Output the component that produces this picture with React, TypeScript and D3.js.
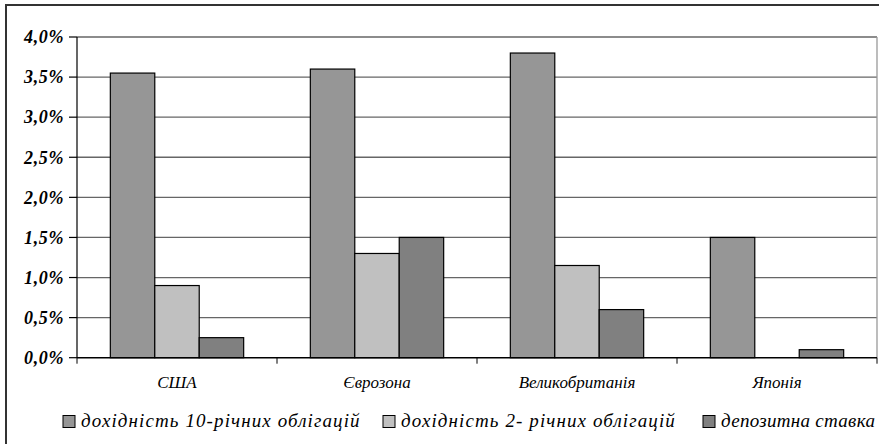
import React from "react";
import * as d3 from "d3";

const categories = ["США", "Єврозона", "Великобританія", "Японія"];
const seriesNames = [
  "дохідність 10-річних облігацій",
  "дохідність 2- річних облігацій",
  "депозитна ставка",
];
const yield10 = [3.55, 3.6, 3.8, 1.5];
const yield2 = [0.9, 1.3, 1.15, null];
const depositRate = [0.25, 1.5, 0.6, 0.1];
const yTicks = [0, 0.5, 1, 1.5, 2, 2.5, 3, 3.5, 4];
const colors = ["#969696", "#c0c0c0", "#808080"];

const W = 879, H = 444;
const left = 77, right = 877, top = 37, bottom = 357.7;
const serif = '"Liberation Serif"';

export default function App() {
  const x = d3.scaleBand<string>().domain(categories).range([left, right]).padding(0);
  const y = d3.scaleLinear().domain([0, 4]).range([bottom, top]);
  const bw = x.bandwidth() / 4.5;
  const xs = d3.scaleBand<string>().domain(["0", "1", "2"]).range([0.75 * bw, 3.75 * bw]).padding(0);
  const fmt = (d: number) => d3.format(".1f")(d).replace(".", ",") + "%";
  const series = [yield10, yield2, depositRate];
  const legX = [63, 383, 703];
  const legSpacing = [1.1, 1.1, 0.3];

  return (
    <svg width={W} height={H} style={{ display: "block", position: "absolute", left: 0, top: 0 }}>
      <rect x={0} y={0} width={W} height={H} fill="#fff" />
      <rect x={6} y={5} width={900} height={500} fill="none" stroke="#333" strokeWidth={2} />
      {yTicks.filter(t => t > 0).map(t => (
        <line key={t} x1={left} x2={right} y1={y(t)} y2={y(t)} stroke="#666" strokeWidth={1.3} />
      ))}
      <line x1={right} x2={right} y1={top} y2={bottom} stroke="#999" strokeWidth={1.3} />
      {series.map((vals, si) =>
        categories.map((c, i) => {
          const v = vals[i];
          if (v == null) return null;
          return (
            <rect key={si + "-" + c}
              x={(x(c) as number) + (xs(String(si)) as number)}
              width={xs.bandwidth()}
              y={y(v)} height={bottom - y(v)}
              fill={colors[si]} stroke="#000" strokeWidth={1.2} />
          );
        })
      )}
      {/* y axis */}
      <line x1={left} x2={left} y1={top} y2={bottom} stroke="#000" strokeWidth={1.2} />
      {yTicks.map(t => (
        <g key={t}>
          <line x1={left - 8} x2={left} y1={y(t)} y2={y(t)} stroke="#000" strokeWidth={1.2} />
          <text x={left - 13} y={y(t)} dy="0.35em" textAnchor="end"
            style={{ fontFamily: serif, fontSize: 18, fontStyle: "italic", fontWeight: "bold", letterSpacing: 0.6 }}>
            {fmt(t)}
          </text>
        </g>
      ))}
      {/* x axis */}
      <line x1={left} x2={right} y1={bottom} y2={bottom} stroke="#000" strokeWidth={1.5} />
      {[...categories.map(c => x(c) as number), right].map((d, i) => (
        <line key={i} x1={d} x2={d} y1={bottom} y2={bottom + 6} stroke="#000" strokeWidth={1} />
      ))}
      {categories.map(c => (
        <text key={c} x={(x(c) as number) + x.bandwidth() / 2} y={388} textAnchor="middle"
          style={{ fontFamily: serif, fontSize: 17, fontStyle: "italic" }}>
          {c}
        </text>
      ))}
      {/* legend */}
      {seriesNames.map((s, i) => (
        <g key={s} transform={`translate(${legX[i]},415.5)`}>
          <rect width={12} height={12} fill={colors[i]} stroke="#000" strokeWidth={1} />
          <text x={18} y={11.5} style={{ fontFamily: serif, fontSize: 19, fontStyle: "italic", letterSpacing: legSpacing[i] }}>
            {s}
          </text>
        </g>
      ))}
    </svg>
  );
}
